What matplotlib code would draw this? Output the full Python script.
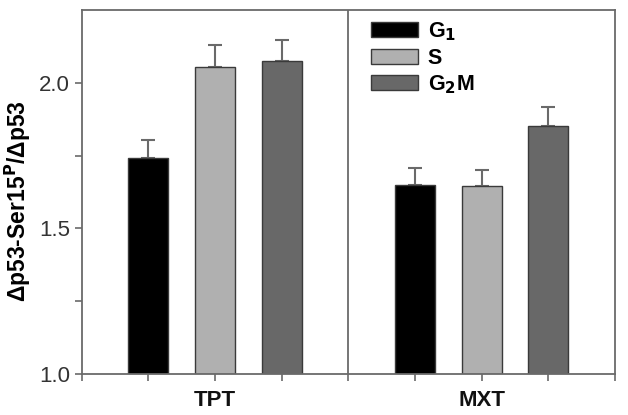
import numpy as np
import matplotlib
matplotlib.use('Agg')
import matplotlib.pyplot as plt
from matplotlib.transforms import blended_transform_factory

plt.rcParams['font.family'] = ['Liberation Sans', 'DejaVu Sans']

# --- data ---
groups = ["TPT", "MXT"]
phases = ["G$_\\mathbf{1}$", "S", "G$_\\mathbf{2}$M"]
tpt_vals = [1.74, 2.055, 2.075]
tpt_err = [0.063, 0.073, 0.073]
mxt_vals = [1.65, 1.645, 1.85]
mxt_err = [0.056, 0.056, 0.065]
colors = ["#000000", "#b0b0b0", "#686868"]

fig = plt.figure(figsize=(6.28, 4.15), dpi=100)
ax = fig.add_axes([0.130, 0.099, 0.849, 0.877])

axis_col = "#6a6a6a"
bar_w = 0.6
for gi, (vals, errs) in enumerate([(tpt_vals, tpt_err), (mxt_vals, mxt_err)]):
    for pi in range(3):
        x = 1 + gi * 4 + pi
        ax.bar(x, vals[pi] - 1.0, bottom=1.0, width=bar_w, color=colors[pi],
               edgecolor="#3a3a3a", linewidth=1.0,
               label=phases[pi] if gi == 0 else None, zorder=2)
        ax.errorbar(x, vals[pi], yerr=[[0], [errs[pi]]], fmt="none",
                    ecolor=axis_col, elinewidth=1.5, capsize=5, capthick=1.5,
                    zorder=1)

# divider between the two drugs
ax.axvline(4, color=axis_col, lw=1.3, zorder=3)

ax.set_xlim(0, 8)
ax.set_ylim(1.0, 2.25)
ax.set_xticks(range(9))
ax.set_xticklabels([])
ax.set_yticks([1.0, 1.5, 2.0])
ax.set_yticks([1.25, 1.75], minor=True)
ax.tick_params(axis="both", which="both", direction="out", length=5,
               width=1.2, color=axis_col, labelcolor="#333333", labelsize=16)
for s in ax.spines.values():
    s.set_color(axis_col)
    s.set_linewidth(1.3)

trans = blended_transform_factory(ax.transData, ax.transAxes)
for gi, g in enumerate(groups):
    ax.text(2 + gi * 4, -0.045, g, transform=trans, ha="center", va="top",
            fontsize=16, fontweight="bold", color="#111111")

ax.set_ylabel("Δp53-Ser15$^\\mathbf{P}$/Δp53", fontsize=16.5, fontweight="bold")
ax.yaxis.set_label_coords(-0.092, 0.475)

leg = ax.legend(loc="upper left", bbox_to_anchor=(0.506, 1.025), frameon=False,
                prop={"size": 15.5, "weight": "bold"}, handlelength=2.2,
                handleheight=0.7, handletextpad=0.45, labelspacing=0.22)

fig.savefig("out.png", dpi=100)
